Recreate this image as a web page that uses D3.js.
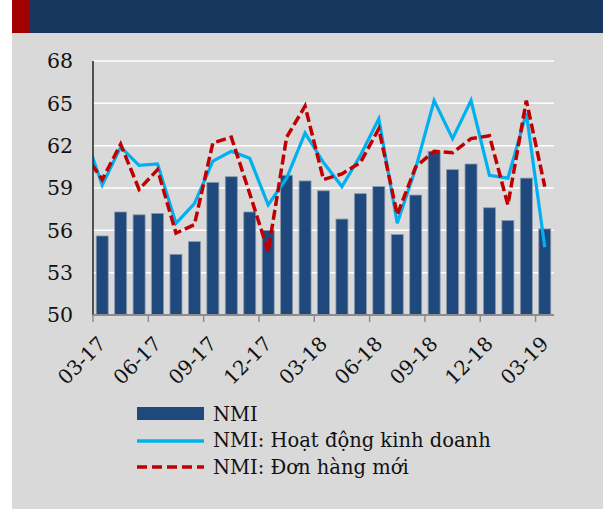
<!DOCTYPE html>
<html lang="vi">
<head>
<meta charset="UTF-8">
<script src="https://d3js.org/d3.v7.min.js"></script>
<style>
  html, body { margin: 0; padding: 0; background: #fff; overflow: hidden; }
  svg { display: block; }
  .tick-label, .legend text { font-family: "DejaVu Serif", serif; fill: #111; }
</style>
</head>
<body>
<svg id="chart" width="603" height="509"></svg>
<script>
// months (02-17 is only there so the lines enter from the left edge, like the original)
const months = ["02-17","03-17","04-17","05-17","06-17","07-17","08-17","09-17","10-17","11-17","12-17",
  "01-18","02-18","03-18","04-18","05-18","06-18","07-18","08-18","09-18","10-18","11-18","12-18",
  "01-19","02-19","03-19"];
const nmi = [null, 55.6, 57.3, 57.1, 57.2, 54.3, 55.2, 59.4, 59.8, 57.3, 56.0,
  59.9, 59.5, 58.8, 56.8, 58.6, 59.1, 55.7, 58.5, 61.6, 60.3, 60.7, 57.6, 56.7, 59.7, 56.1];
const activity = [63.0, 59.2, 61.9, 60.6, 60.7, 56.5, 57.9, 60.9, 61.6, 61.1, 57.8,
  59.7, 62.9, 60.8, 59.1, 61.3, 63.9, 56.5, 60.4, 65.2, 62.5, 65.2, 59.9, 59.7, 64.3, 54.8];
const newOrders = [61.5, 59.6, 62.1, 58.9, 60.3, 55.8, 56.4, 62.2, 62.6, 58.6, 54.5,
  62.6, 64.8, 59.6, 60.0, 60.8, 63.2, 57.1, 60.5, 61.6, 61.5, 62.5, 62.7, 57.8, 65.2, 59.1];
const yTicks = [50, 53, 56, 59, 62, 65, 68];
const tickMonths = ["03-17","06-17","09-17","12-17","03-18","06-18","09-18","12-18","03-19"];
const seriesNames = ["NMI", "NMI: Hoạt động kinh doanh", "NMI: Đơn hàng mới"];

const W = 603, H = 509;
const plot = { left: 93, right: 554, top: 61, bottom: 315 };
const barColor = "#1f497d", blue = "#00b0f0", red = "#c00000";

const svg = d3.select("#chart");

// panel + header
svg.append("rect").attr("x", 12).attr("y", 0).attr("width", W - 12).attr("height", H).attr("fill", "#d9d9d9");
svg.append("rect").attr("x", 12).attr("y", 0).attr("width", W - 12).attr("height", 33).attr("fill", "#17375e");
svg.append("rect").attr("x", 12).attr("y", 0).attr("width", 17).attr("height", 33).attr("fill", "#a00000");

const step = (plot.right - plot.left) / (months.length - 1);
const x = d3.scaleBand().domain(months).range([plot.left - step, plot.right])
  .paddingInner(0.35).paddingOuter(0.175);
const cx = m => x(m) + x.bandwidth() / 2;
const edge = m => x(m) - x.step() * x.paddingInner() / 2;
const y = d3.scaleLinear().domain([50, 68]).range([plot.bottom, plot.top]);

// gridlines
svg.append("g").selectAll("line").data(yTicks.slice(1)).join("line")
  .attr("x1", plot.left).attr("x2", plot.right)
  .attr("y1", d => y(d)).attr("y2", d => y(d))
  .attr("stroke", "#fff").attr("stroke-width", 1.5);

svg.append("defs").append("clipPath").attr("id", "plotclip")
  .append("rect").attr("x", plot.left).attr("y", 0)
  .attr("width", plot.right - plot.left).attr("height", plot.bottom + 5);

// bars
svg.append("g").selectAll("rect").data(months.map((m, i) => ({ m, v: nmi[i] })).filter(d => d.v != null))
  .join("rect")
  .attr("x", d => x(d.m)).attr("width", x.bandwidth())
  .attr("y", d => y(d.v)).attr("height", d => plot.bottom - y(d.v))
  .attr("fill", barColor).attr("stroke", "#8a99ad").attr("stroke-width", 0.8);

// lines
const line = d3.line().x(d => cx(d.m)).y(d => y(d.v));
const lines = svg.append("g").attr("clip-path", "url(#plotclip)");
lines.append("path").datum(months.map((m, i) => ({ m, v: activity[i] })))
  .attr("d", line).attr("fill", "none").attr("stroke", blue).attr("stroke-width", 3.2);
lines.append("path").datum(months.map((m, i) => ({ m, v: newOrders[i] })))
  .attr("d", line).attr("fill", "none").attr("stroke", red).attr("stroke-width", 3.5)
  .attr("stroke-dasharray", "10,4");

// y axis
svg.append("line").attr("x1", plot.left).attr("x2", plot.left).attr("y1", plot.top).attr("y2", plot.bottom)
  .attr("stroke", "#222").attr("stroke-width", 1.5);
svg.append("g").selectAll("text").data(yTicks).join("text")
  .attr("class", "tick-label")
  .attr("x", 73).attr("y", d => y(d)).attr("dy", "0.36em")
  .attr("text-anchor", "end").attr("font-size", 20.5)
  .text(d => d);

// x axis
svg.append("line").attr("x1", plot.left).attr("x2", plot.right).attr("y1", plot.bottom).attr("y2", plot.bottom)
  .attr("stroke", "#8c8c8c").attr("stroke-width", 2);
svg.append("g").selectAll("line").data(tickMonths).join("line")
  .attr("x1", edge).attr("x2", edge)
  .attr("y1", plot.bottom).attr("y2", plot.bottom + 7)
  .attr("stroke", "#8c8c8c").attr("stroke-width", 1.5);
svg.append("g").selectAll("text").data(tickMonths).join("text")
  .attr("class", "tick-label")
  .attr("transform", d => `translate(${edge(d) + 9},340) rotate(-45)`)
  .attr("text-anchor", "end").attr("dy", "0.36em").attr("font-size", 20)
  .text(d => d);

// legend
const lg = svg.append("g").attr("class", "legend");
lg.append("rect").attr("x", 137).attr("y", 407).attr("width", 67).attr("height", 13).attr("fill", barColor);
lg.append("line").attr("x1", 137).attr("x2", 204).attr("y1", 441).attr("y2", 441)
  .attr("stroke", blue).attr("stroke-width", 3.5);
lg.append("line").attr("x1", 137).attr("x2", 204).attr("y1", 467).attr("y2", 467)
  .attr("stroke", red).attr("stroke-width", 3.5).attr("stroke-dasharray", "10,5");
lg.selectAll("text").data(seriesNames).join("text")
  .attr("x", 213).attr("y", (d, i) => [421, 447, 474][i])
  .attr("font-size", 19.5)
  .text(d => d);
</script>
</body>
</html>
